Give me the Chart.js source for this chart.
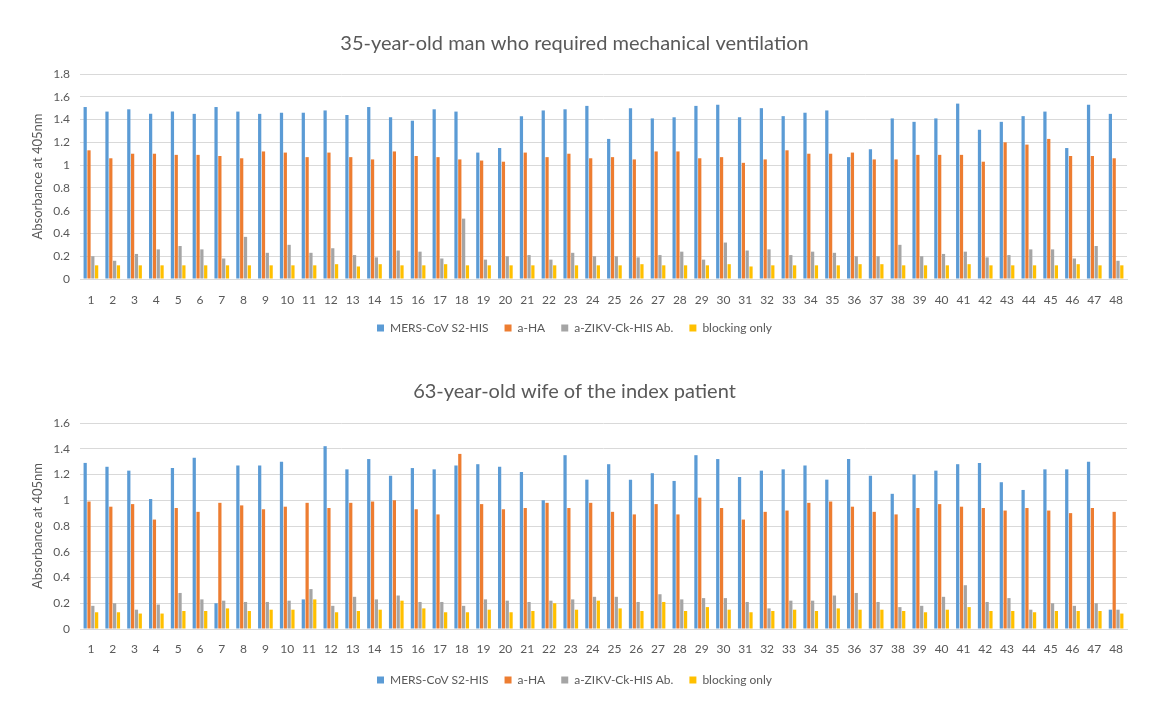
<!DOCTYPE html>
<html>
<head>
<meta charset="utf-8">
<script src="https://cdn.jsdelivr.net/npm/chart.js@4.4.0/dist/chart.umd.min.js"></script>
<style>
  html, body { margin: 0; padding: 0; background: #fff; }
  #wrap { position: relative; width: 1161px; height: 704px; overflow: hidden; }
  .box { position: absolute; left: 0; width: 1161px; height: 370px; }
</style>
</head>
<body>
<div id="wrap">
  <div class="box" style="top:0"><canvas id="c1"></canvas></div>
  <div class="box" style="top:350px"><canvas id="c2"></canvas></div>
</div>
<script>
const categories = Array.from({length: 48}, (_, i) => String(i + 1));
const seriesNames = ["MERS-CoV S2-HIS", "a-HA", "a-ZIKV-Ck-HIS Ab.", "blocking only"];

const title1 = "35-year-old man who required mechanical ventilation";
const mers1 = [1.51,1.47,1.49,1.45,1.47,1.45,1.51,1.47,1.45,1.46,1.46,1.48,1.44,1.51,1.42,1.39,1.49,1.47,1.11,1.15,1.43,1.48,1.49,1.52,1.23,1.50,1.41,1.42,1.52,1.53,1.42,1.50,1.43,1.46,1.48,1.07,1.14,1.41,1.38,1.41,1.54,1.31,1.38,1.43,1.47,1.15,1.53,1.45];
const ha1 = [1.13,1.06,1.10,1.10,1.09,1.09,1.08,1.06,1.12,1.11,1.07,1.11,1.07,1.05,1.12,1.08,1.07,1.05,1.04,1.03,1.11,1.07,1.10,1.06,1.07,1.05,1.12,1.12,1.06,1.07,1.02,1.05,1.13,1.10,1.10,1.11,1.05,1.05,1.09,1.09,1.09,1.03,1.20,1.18,1.23,1.08,1.08,1.06];
const zikv1 = [0.20,0.16,0.22,0.26,0.29,0.26,0.18,0.37,0.23,0.30,0.23,0.27,0.21,0.19,0.25,0.24,0.18,0.53,0.17,0.20,0.21,0.17,0.23,0.20,0.20,0.19,0.21,0.24,0.17,0.32,0.25,0.26,0.21,0.24,0.23,0.20,0.20,0.30,0.20,0.22,0.24,0.19,0.21,0.26,0.26,0.18,0.29,0.16];
const block1 = [0.12,0.12,0.12,0.12,0.12,0.12,0.12,0.12,0.12,0.12,0.12,0.13,0.11,0.13,0.12,0.12,0.13,0.12,0.12,0.12,0.12,0.12,0.12,0.12,0.12,0.13,0.12,0.12,0.12,0.13,0.11,0.12,0.12,0.12,0.12,0.13,0.13,0.12,0.12,0.12,0.13,0.12,0.12,0.12,0.12,0.13,0.12,0.12];
const yTicks1 = {max: 1.8, step: 0.2};

const title2 = "63-year-old wife of the index patient";
const mers2 = [1.29,1.26,1.23,1.01,1.25,1.33,0.20,1.27,1.27,1.30,0.23,1.42,1.24,1.32,1.19,1.25,1.24,1.27,1.28,1.26,1.22,1.00,1.35,1.16,1.28,1.16,1.21,1.15,1.35,1.32,1.18,1.23,1.24,1.27,1.16,1.32,1.19,1.05,1.20,1.23,1.28,1.29,1.14,1.08,1.24,1.24,1.30,0.15];
const ha2 = [0.99,0.95,0.97,0.85,0.94,0.91,0.98,0.96,0.93,0.95,0.98,0.94,0.98,0.99,1.00,0.93,0.89,1.36,0.97,0.93,0.94,0.98,0.94,0.98,0.91,0.89,0.97,0.89,1.02,0.94,0.85,0.91,0.92,0.98,0.99,0.95,0.91,0.89,0.94,0.97,0.95,0.94,0.92,0.94,0.92,0.90,0.94,0.91];
const zikv2 = [0.18,0.20,0.15,0.19,0.28,0.23,0.22,0.21,0.21,0.22,0.31,0.18,0.25,0.23,0.26,0.21,0.21,0.18,0.23,0.22,0.21,0.22,0.23,0.25,0.25,0.21,0.27,0.23,0.24,0.24,0.21,0.16,0.22,0.22,0.26,0.28,0.21,0.17,0.18,0.25,0.34,0.21,0.24,0.15,0.20,0.18,0.20,0.15];
const block2 = [0.13,0.13,0.12,0.12,0.14,0.14,0.16,0.14,0.15,0.15,0.23,0.13,0.14,0.15,0.22,0.16,0.13,0.13,0.15,0.13,0.14,0.20,0.15,0.22,0.16,0.14,0.21,0.14,0.17,0.15,0.13,0.14,0.15,0.14,0.16,0.15,0.15,0.14,0.13,0.15,0.17,0.14,0.14,0.13,0.14,0.14,0.14,0.12];
const yTicks2 = {max: 1.6, step: 0.2};

const colors = ["#5B9BD5", "#ED7D31", "#A5A5A5", "#FFC000"];
const FONT = "Lato, 'Open Sans', sans-serif";
const TXT = "#595959";

function makeChart(id, title, arrs, yt, lay) {
  new Chart(document.getElementById(id), {
    type: 'bar',
    data: {
      labels: categories,
      datasets: arrs.map((d, i) => ({
        label: seriesNames[i],
        data: d,
        backgroundColor: colors[i],
        borderWidth: 0,
        categoryPercentage: 0.7,
        barPercentage: 0.85
      }))
    },
    options: {
      responsive: true,
      maintainAspectRatio: false,
      animation: false,
      layout: { padding: { left: 22, right: 34, top: 0, bottom: lay.pb } },
      plugins: {
        title: {
          display: true, text: title, color: TXT,
          font: { family: FONT, size: 20, weight: 'normal' },
          padding: { top: lay.tt, bottom: lay.tb }
        },
        legend: {
          position: 'bottom',
          labels: {
            color: TXT, boxWidth: 7, boxHeight: 7, padding: 16,
            font: { family: FONT, size: 12 }
          }
        },
        tooltip: { enabled: false }
      },
      scales: {
        x: {
          afterFit: s => { s.height = lay.xh; },
          grid: { display: false, drawTicks: false },
          border: { display: true, color: '#D9D9D9' },
          ticks: { color: TXT, font: { family: FONT, size: 12 }, padding: lay.xp, maxRotation: 0, autoSkip: false }
        },
        y: {
          min: 0, max: yt.max,
          afterFit: s => { s.width = 58; },
          title: { display: true, text: 'Absorbance at 405nm', color: TXT, font: { family: FONT, size: 13 }, padding: 8 },
          grid: { color: '#D9D9D9', drawTicks: false },
          border: { display: false },
          ticks: { stepSize: yt.step, color: TXT, font: { family: FONT, size: 12 }, padding: 10,
            callback: v => String(Math.round(v * 10) / 10) }
        }
      }
    }
  });
}

makeChart('c1', title1, [mers1, ha1, zikv1, block1], yTicks1, {pb: 26, tt: 32, tb: 18, xh: 27, xp: 14});
makeChart('c2', title2, [mers2, ha2, zikv2, block2], yTicks2, {pb: 24, tt: 30, tb: 19, xh: 29, xp: 13});
</script>
</body>
</html>
